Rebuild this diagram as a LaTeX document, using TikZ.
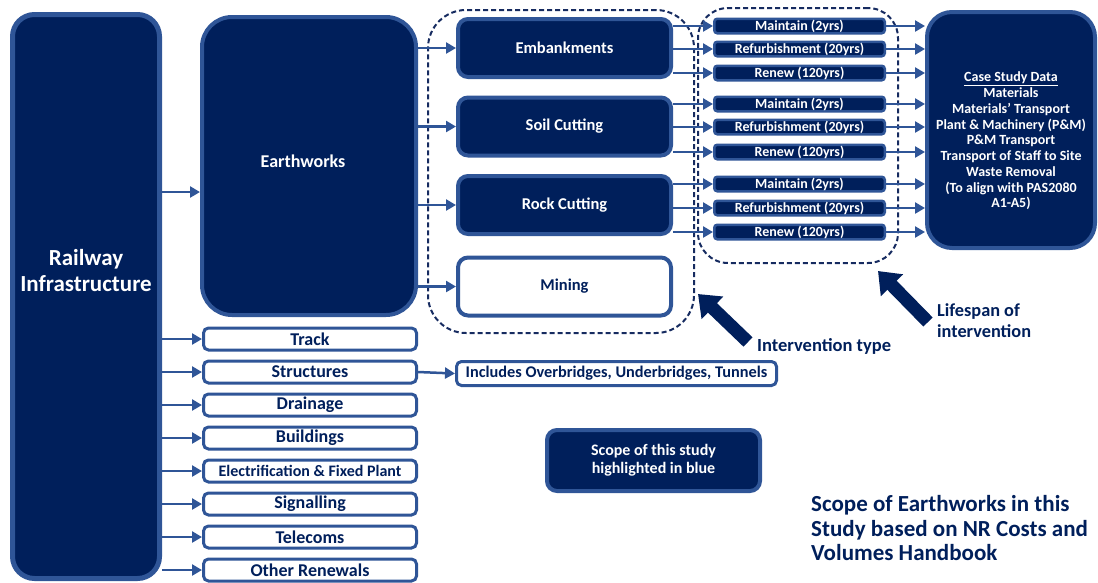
\documentclass[tikz,border=0pt]{standalone}
\usepackage{fontspec}
\setmainfont{Carlito}
\usetikzlibrary{arrows.meta,calc}
\definecolor{navy}{RGB}{0,31,91}
\definecolor{bblue}{RGB}{47,85,151}
\definecolor{dnavy}{RGB}{22,43,96}
\newcommand{\fs}[2]{\fontsize{#1}{#2}\selectfont}
\begin{document}
\begin{tikzpicture}[x=1pt,y=-1pt,
 darkbox/.style={fill=navy,draw=bblue,line width=4pt,text=white,font=\bfseries,align=center,inner sep=0pt},
 whitebox/.style={fill=white,draw=bblue,line width=3pt,text=navy,font=\bfseries,align=center,inner sep=0pt},
 smallbox/.style={darkbox,line width=2.5pt,rounded corners=3pt,minimum width=170.5pt,minimum height=14.5pt,font=\bfseries\fs{14}{15}},
 listbox/.style={whitebox,rounded corners=5pt,minimum width=213pt,minimum height=22pt,font=\bfseries\fs{18}{20}},
 subbox/.style={rounded corners=10pt,minimum width=213pt,minimum height=58pt,font=\bfseries\fs{16.5}{18}},
 arr/.style={draw=bblue,line width=2.5pt,-{Triangle[length=10pt,width=11pt]}},
 bigarr/.style={draw=navy,line width=13pt,-{Triangle[length=20pt,width=30pt]}},
 dashbox/.style={draw=dnavy,line width=2pt,dash pattern=on 5pt off 3pt},
 lbl/.style={text=navy,inner sep=0pt}
]
\useasboundingbox (0,0) rectangle (1098,582);

% main boxes
\node[darkbox, rounded corners=22pt, line width=5pt, minimum width=147pt, minimum height=564pt] (rail) at (86,296.5) {};
\node[text=white, font=\bfseries\fs{23}{26}, align=center, inner sep=0pt] (railtxt) at (86,271) {Railway\\Infrastructure};

\node[darkbox, rounded corners=30pt, minimum width=214pt, minimum height=298pt] (earth) at (309,166) {};
\node[text=white, font=\bfseries\fs{18}{20}, inner sep=0pt] (earthtxt) at (303,161) {Earthworks};

% intervention type
\node[dashbox, rounded corners=38pt, minimum width=266pt, minimum height=323pt] (intbox) at (561,171.5) {};
\node[darkbox, subbox] (emb) at (564.5,48) {Embankments};
\node[darkbox, subbox] (soil) at (564.5,126.5) {Soil Cutting};
\node[darkbox, subbox] (rock) at (564.5,205) {Rock Cutting};
\node[whitebox, subbox, line width=4pt] (mine) at (564.5,286.5) {Mining};

\foreach \b in {emb,soil,rock,mine}{
  \draw[arr] (earth.east |- \b) -- (\b.west);
}

% lifespan
\node[dashbox, rounded corners=30pt, minimum width=200pt, minimum height=255pt] (lifebox) at (798,135.5) {};
\node[smallbox] (m1) at (799.5,26) {Maintain (2yrs)};
\node[smallbox] (r1) at (799.5,49) {Refurbishment (20yrs)};
\node[smallbox] (n1) at (799.5,73) {Renew (120yrs)};
\node[smallbox] (m2) at (799.5,104) {Maintain (2yrs)};
\node[smallbox] (r2) at (799.5,127) {Refurbishment (20yrs)};
\node[smallbox] (n2) at (799.5,152) {Renew (120yrs)};
\node[smallbox] (m3) at (799.5,184) {Maintain (2yrs)};
\node[smallbox] (r3) at (799.5,208) {Refurbishment (20yrs)};
\node[smallbox] (n3) at (799.5,232) {Renew (120yrs)};

% case study
\node[darkbox, rounded corners=25pt, minimum width=168pt, minimum height=236pt] (cs) at (1011,130) {};
\node[text=white, font=\bfseries\fs{14}{15.75}, align=center, inner sep=0pt] (cstxt) at (1011,141)
 {\underline{Case Study Data}\\Materials\\Materials’ Transport\\Plant \& Machinery (P\&M)\\P\&M Transport\\Transport of Staff to Site\\Waste Removal\\(To align with PAS2080\\A1-A5)};

\foreach \p/\s in {emb/m1,emb/r1,emb/n1,soil/m2,soil/r2,soil/n2,rock/m3,rock/r3,rock/n3}{
  \draw[arr] (\p.east |- \s) -- (\s.west);
  \draw[arr] (\s.east) -- (\s -| cs.west);
}

% list
\node[listbox] (track) at (310,339) {Track};
\node[listbox] (struct) at (310,372) {Structures};
\node[listbox] (drain) at (310,405) {Drainage};
\node[listbox] (build) at (310,438) {Buildings};
\node[listbox, font=\bfseries\fs{16}{18}] (elec) at (310,471) {Electrification \& Fixed Plant};
\node[listbox] (sig) at (310,504) {Signalling};
\node[listbox] (tel) at (310,537) {Telecoms};
\node[listbox] (other) at (310,570) {Other Renewals};

\coordinate (ea) at (0,192);
\draw[arr] (rail.east |- ea) -- (earth.west |- ea);
\foreach \b in {track,struct,drain,build,elec,sig,tel,other}{
  \draw[arr] (rail.east |- \b) -- (\b.west);
}

\node[whitebox, rounded corners=5pt, minimum width=320pt, minimum height=24pt, font=\bfseries\fs{16.3}{18}] (incl) at (616.5,373.5) {Includes Overbridges, Underbridges, Tunnels};
\draw[arr] (struct.east) -- (incl.west);

\node[darkbox, rounded corners=10pt, minimum width=213pt, minimum height=61pt, font=\bfseries\fs{16}{18}] (scope) at (653.5,460.5) {Scope of this study\\highlighted in blue};

% pointers
\coordinate (ia0) at (748,342);
\coordinate (ia1) at (698,294);
\draw[bigarr] (ia0) -- (ia1);
\coordinate (la0) at (928,322);
\coordinate (la1) at (878,271);
\draw[bigarr] (la0) -- (la1);

\node[lbl, font=\bfseries\fs{18.5}{20}, anchor=west] (ilbl) at (757,346) {Intervention type};
\node[lbl, font=\bfseries\fs{18.3}{21}, anchor=west, align=left] (llbl) at (937,320.5) {Lifespan of\\intervention};
\node[lbl, font=\bfseries\fs{23}{24.5}, anchor=west, align=left] (title) at (811,528.5) {Scope of Earthworks in this\\Study based on NR Costs and\\Volumes Handbook};
\end{tikzpicture}
\end{document}
